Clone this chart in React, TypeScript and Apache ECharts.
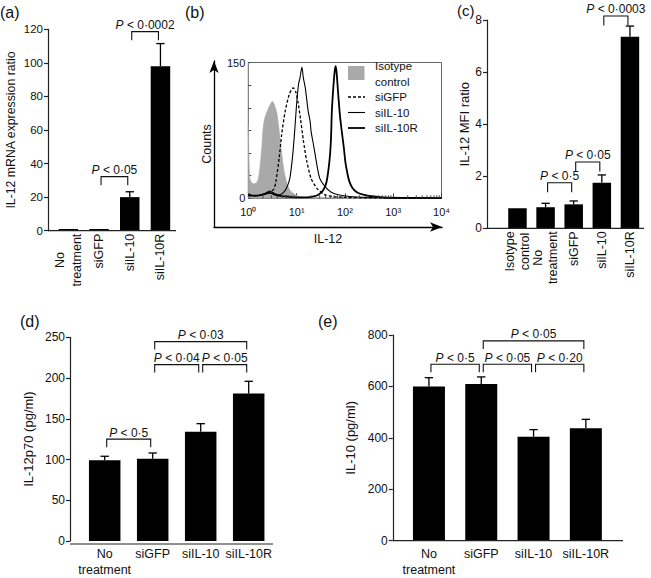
import React, { useEffect, useRef } from 'react';
import * as echarts from 'echarts';

const FONT = '"Liberation Sans", Arial, Helvetica, sans-serif';
const INK = '#111';
const AXIS = '#222';

// ---------- (a) IL-12 mRNA expression ratio ----------
const A_CATEGORIES = ['No\ntreatment', 'siGFP', 'siIL-10', 'siIL-10R'];
const A_MEANS = [1, 1, 20, 98];
const A_UPPER = [1, 1, 23.2, 111.5];
const A_BRACKETS = [
  { from: 1, to: 2, y: 32.2, text: 'P < 0·05' },
  { from: 2, to: 3, y: 118.6, text: 'P < 0·0002' },
];

// ---------- (b) flow cytometry histogram ----------
const B_LEGEND = ['Isotype', 'control', 'siGFP', 'siIL-10', 'siIL-10R'];
const B_MINOR_TICKS = [2, 3, 4, 5, 6, 7, 8, 9, 20, 30, 40, 50, 60, 70, 80, 90, 200, 300, 400, 500, 600, 700, 800, 900, 2000, 3000, 4000, 5000, 6000, 7000, 8000, 9000];
const SUPERSCRIPTS = ['⁰', '¹', '²', '³', '⁴'];
// positions in decades (log10 of IL-12 fluorescence) and counts
const ISO_LOG = [0, 0.03, 0.1, 0.17, 0.21, 0.24, 0.28, 0.31, 0.35, 0.4, 0.45, 0.5, 0.54, 0.59, 0.63, 0.66, 0.7, 0.74, 0.79, 0.86, 0.97, 1.07, 1.3, 2, 3, 4];
const ISO_COUNTS = [80, 22, 16, 17, 22, 33, 55, 78, 90, 97, 103, 107, 103, 94, 78, 63, 45, 30, 18, 9, 4, 1.5, 0.8, 0.5, 0.3, 0.3];
const GFP_LOG = [0, 0.1, 0.2, 0.3, 0.4, 0.47, 0.53, 0.57, 0.64, 0.69, 0.76, 0.85, 0.93, 0.98, 1.03, 1.08, 1.14, 1.21, 1.3, 1.42, 1.58, 1.75, 2, 2.5, 3, 4];
const GFP_COUNTS = [5, 3, 3, 4, 6, 8, 10, 18, 45, 70, 95, 115, 122, 118, 106, 88, 64, 41, 22, 11, 4, 2, 1, 0.5, 0.3, 0.3];
const IL10_LOG = [0, 0.15, 0.3, 0.45, 0.55, 0.65, 0.72, 0.79, 0.86, 0.92, 0.96, 1.0, 1.04, 1.07, 1.11, 1.14, 1.18, 1.24, 1.28, 1.3, 1.36, 1.42, 1.48, 1.59, 1.71, 1.86, 2.1, 2.5, 3, 4];
const IL10_COUNTS = [4, 3, 4, 8, 5, 4, 6, 11, 22, 48, 74, 104, 126, 133, 145, 133, 122, 96, 85, 74, 56, 37, 22, 13, 7, 4, 2, 1, 0.5, 0.3];
const IL10R_LOG = [0, 0.2, 0.45, 0.6, 0.8, 1.0, 1.2, 1.35, 1.45, 1.55, 1.62, 1.68, 1.71, 1.73, 1.76, 1.79, 1.81, 1.83, 1.86, 1.9, 1.94, 1.98, 2.01, 2.05, 2.09, 2.15, 2.24, 2.38, 2.59, 2.8, 3.2, 4];
const IL10R_COUNTS = [3, 3, 6, 3, 2, 1, 1, 2, 4, 9, 18, 41, 63, 96, 122, 141, 146, 138, 116, 90, 72, 55, 40, 28, 19, 12, 7, 4, 2, 1, 0.5, 0.3];

// ---------- (c) IL-12 MFI ratio ----------
const C_CATEGORIES = ['Isotype\ncontrol', 'No\ntreatment', 'siGFP', 'siIL-10', 'siIL-10R'];
const C_MEANS = [0.77, 0.81, 0.92, 1.75, 7.36];
const C_UPPER = [0.77, 0.96, 1.05, 2.05, 7.77];
const C_BRACKETS = [
  { from: 1, to: 2, y: 1.75, text: 'P < 0·5' },
  { from: 2, to: 3, y: 2.55, text: 'P < 0·05' },
  { from: 3, to: 4, y: 8.16, text: 'P < 0·0003' },
];

// ---------- (d) IL-12p70 ----------
const D_CATEGORIES = ['No\ntreatment', 'siGFP', 'siIL-10', 'siIL-10R'];
const D_MEANS = [99, 101, 134, 181];
const D_UPPER = [104, 108, 144, 196];
const D_BRACKETS = [
  { from: 0, to: 1, y: 125, text: 'P < 0·5' },
  { from: 1, to: 2, y: 216.5, text: 'P < 0·04' },
  { from: 2, to: 3, y: 216.5, text: 'P < 0·05' },
  { from: 1, to: 3, y: 244.7, text: 'P < 0·03' },
];

// ---------- (e) IL-10 ----------
const E_CATEGORIES = ['No\ntreatment', 'siGFP', 'siIL-10', 'siIL-10R'];
const E_MEANS = [600, 609, 404, 437];
const E_UPPER = [634, 637, 432, 472];
const E_BRACKETS = [
  { from: 0, to: 1, y: 686, text: 'P < 0·5' },
  { from: 1, to: 2, y: 686, text: 'P < 0·05' },
  { from: 2, to: 3, y: 686, text: 'P < 0·20' },
  { from: 1, to: 3, y: 777, text: 'P < 0·05' },
];

// ---------- layout ----------
const GA = { left: 53, top: 29.3, width: 122.8, height: 201.4, offset: 5, lineEnd: 176 };
const GBO = { left: 214, top: 61, width: 228, height: 166 };
const GBI = { left: 248.3, top: 62.5, width: 193.2, height: 135.8 };
const GC = { left: 503.4, top: 20.1, width: 140.6, height: 208.2, offset: 16.4, lineEnd: 644 };
const GD = { left: 80.7, top: 337.3, width: 192, height: 206.7, offset: 10.7, lineEnd: 273 };
const GE = { left: 402.8, top: 335, width: 209.2, height: 205.7, offset: 10, lineEnd: 623 };

function catAxis(gridIndex: number, data: string[], rotated: boolean, lineHeight: number) {
  return {
    type: 'category',
    gridIndex,
    data,
    boundaryGap: true,
    axisLine: { show: false },
    axisTick: { show: false },
    axisLabel: {
      interval: 0,
      rotate: rotated ? 90 : 0,
      margin: rotated ? 3 : 5,
      color: INK,
      fontFamily: FONT,
      fontSize: 12.5,
      lineHeight,
      formatter: (v: string) => v.split('\n').map((s) => `{c|${s}}`).join('\n'),
      rich: { c: { align: 'center', fontSize: 12.5, fontFamily: FONT, color: INK, lineHeight } },
    },
    splitLine: { show: false },
  };
}

function valAxis(gridIndex: number, max: number, interval: number, name: string, nameGap: number, offset: number, fontSize: number, nameSize: number) {
  return {
    type: 'value',
    gridIndex,
    min: 0,
    max,
    interval,
    offset,
    name,
    nameLocation: 'middle',
    nameGap,
    nameTextStyle: { fontSize: nameSize, color: INK, fontFamily: FONT },
    axisLine: { show: true, lineStyle: { color: AXIS, width: 1.2 } },
    axisTick: { show: true, length: 4, lineStyle: { color: AXIS, width: 1.2 } },
    axisLabel: { margin: 5, fontSize, color: INK, fontFamily: FONT },
    splitLine: { show: false },
  };
}

function barSeries(axisIndex: number, values: number[], barWidth: number) {
  return {
    type: 'bar',
    xAxisIndex: axisIndex,
    yAxisIndex: axisIndex,
    data: values,
    barWidth,
    itemStyle: { color: '#000' },
    silent: true,
    z: 2,
  };
}

function errorSeries(axisIndex: number, means: number[], upper: number[]) {
  return {
    type: 'custom',
    xAxisIndex: axisIndex,
    yAxisIndex: axisIndex,
    clip: false,
    silent: true,
    z: 3,
    data: means.map((m, i) => [i, m, upper[i]]),
    encode: { x: 0, y: [1, 2] },
    renderItem: (params: any, api: any) => {
      const i = api.value(0);
      const a = api.coord([i, api.value(1)]);
      const b = api.coord([i, api.value(2)]);
      if (Math.abs(a[1] - b[1]) < 0.5) return { type: 'group', children: [] };
      const st = { stroke: '#000', lineWidth: 1.3 };
      return {
        type: 'group',
        children: [
          { type: 'line', shape: { x1: a[0], y1: a[1], x2: b[0], y2: b[1] }, style: st },
          { type: 'line', shape: { x1: b[0] - 4.2, y1: b[1], x2: b[0] + 4.2, y2: b[1] }, style: st },
        ],
      };
    },
  };
}

function bracketSeries(axisIndex: number, brackets: { from: number; to: number; y: number; text: string }[], leg: number) {
  return {
    type: 'custom',
    xAxisIndex: axisIndex,
    yAxisIndex: axisIndex,
    clip: false,
    silent: true,
    z: 4,
    data: brackets.map((b) => [b.from, b.to, b.y]),
    encode: { x: [0, 1], y: 2 },
    renderItem: (params: any, api: any) => {
      const br = brackets[params.dataIndex];
      const p1 = api.coord([api.value(0), api.value(2)]);
      const p2 = api.coord([api.value(1), api.value(2)]);
      const x1 = p1[0] + 2;
      const x2 = p2[0] - 2;
      const y = p1[1];
      return {
        type: 'group',
        children: [
          {
            type: 'polyline',
            shape: { points: [[x1, y + leg], [x1, y], [x2, y], [x2, y + leg]] },
            style: { stroke: '#111', lineWidth: 1.1, fill: null },
          },
          {
            type: 'text',
            x: (x1 + x2) / 2,
            y: y - 0.5,
            style: {
              text: `{i|${br.text.slice(0, 1)}}{n|${br.text.slice(1)}}`,
              align: 'center',
              verticalAlign: 'bottom',
              fill: INK,
              fontSize: 12,
              fontFamily: FONT,
              rich: {
                i: { fontStyle: 'italic', fontSize: 12, fontFamily: FONT, fill: INK },
                n: { fontSize: 12, fontFamily: FONT, fill: INK },
              },
            },
          },
        ],
      };
    },
  };
}

function histSeries(logs: number[], counts: number[], lineStyle: any, area: boolean, z: number) {
  return {
    type: 'line',
    xAxisIndex: 2,
    yAxisIndex: 2,
    data: logs.map((l, i) => [Math.pow(10, l), counts[i]]),
    symbol: 'none',
    showSymbol: false,
    smooth: 0.25,
    silent: true,
    lineStyle,
    areaStyle: area ? { color: '#a9a9a9', opacity: 1 } : undefined,
    z,
  };
}

function xLine(g: any) {
  const y = g.top + g.height;
  return {
    type: 'line',
    z: 100,
    shape: { x1: g.left - g.offset, y1: y, x2: g.lineEnd, y2: y },
    style: { stroke: AXIS, lineWidth: 1.2 },
  };
}

function panelLabel(text: string, x: number, y: number, size: number) {
  return {
    type: 'text',
    z: 100,
    x,
    y,
    style: { text, fontSize: size, fontFamily: FONT, fill: INK, align: 'left', verticalAlign: 'middle' },
  };
}

function legendText(text: string, y: number) {
  return {
    type: 'text',
    z: 100,
    x: 375,
    y,
    style: { text, fontSize: 11.5, fontFamily: FONT, fill: INK, align: 'left', verticalAlign: 'middle' },
  };
}

function buildOption() {
  return {
    animation: false,
    backgroundColor: '#fff',
    textStyle: { fontFamily: FONT },
    grid: [
      { left: GA.left, top: GA.top, width: GA.width, height: GA.height },
      { left: GBO.left, top: GBO.top, width: GBO.width, height: GBO.height },
      { left: GBI.left, top: GBI.top, width: GBI.width, height: GBI.height, show: true, borderColor: '#666', borderWidth: 1, backgroundColor: 'transparent' },
      { left: GC.left, top: GC.top, width: GC.width, height: GC.height },
      { left: GD.left, top: GD.top, width: GD.width, height: GD.height },
      { left: GE.left, top: GE.top, width: GE.width, height: GE.height },
    ],
    xAxis: [
      catAxis(0, A_CATEGORIES, true, 17),
      {
        type: 'value', gridIndex: 1, min: 0, max: 1,
        axisLine: { show: true, onZero: false, symbol: ['none', 'arrow'], symbolSize: [7, 12], lineStyle: { color: '#000', width: 1.3 } },
        axisTick: { show: false }, axisLabel: { show: false }, splitLine: { show: false },
        name: 'IL-12', nameLocation: 'middle', nameGap: 5,
        nameTextStyle: { fontSize: 12.5, color: INK, fontFamily: FONT, verticalAlign: 'top' },
      },
      {
        type: 'log', logBase: 10, gridIndex: 2, min: 1, max: 10000,
        axisLine: { show: false },
        axisTick: { show: true, inside: true, length: 5, lineStyle: { color: '#444' } },
        axisLabel: {
          margin: 8, fontSize: 11, color: INK, fontFamily: FONT,
          formatter: (v: number) => '10' + SUPERSCRIPTS[Math.round(Math.log10(v))],
        },
        splitLine: { show: false },
      },
      catAxis(3, C_CATEGORIES, true, 15.5),
      catAxis(4, D_CATEGORIES, false, 16),
      catAxis(5, E_CATEGORIES, false, 16),
    ],
    yAxis: [
      { ...valAxis(0, 120, 20, 'IL-12 mRNA expression ratio', 31, GA.offset, 11.5, 12.3) },
      {
        type: 'value', gridIndex: 1, min: 0, max: 1,
        axisLine: { show: true, onZero: false, symbol: ['none', 'arrow'], symbolSize: [7, 12], lineStyle: { color: '#000', width: 1.3 } },
        axisTick: { show: false }, axisLabel: { show: false }, splitLine: { show: false },
        name: 'Counts', nameLocation: 'middle', nameGap: 1,
        nameTextStyle: { fontSize: 12.5, color: INK, fontFamily: FONT },
      },
      {
        type: 'value', gridIndex: 2, min: 0, max: 150, interval: 25,
        axisLine: { show: false },
        axisTick: { show: true, inside: true, length: 3, lineStyle: { color: '#444' } },
        axisLabel: {
          margin: 3, fontSize: 11, color: INK, fontFamily: FONT,
          formatter: (v: number) => (v === 0 || v === 150 ? String(v) : ''),
        },
        splitLine: { show: false },
      },
      { ...valAxis(3, 8, 2, 'IL-12 MFI ratio', 6.5, GC.offset, 12, 13) },
      { ...valAxis(4, 250, 50, 'IL-12p70 (pg/ml)', 35, GD.offset, 12, 13) },
      { ...valAxis(5, 800, 200, 'IL-10 (pg/ml)', 36, GE.offset, 12, 13) },
    ],
    series: [
      barSeries(0, A_MEANS, 19.5),
      errorSeries(0, A_MEANS, A_UPPER),
      bracketSeries(0, A_BRACKETS, 8.5),

      histSeries(ISO_LOG, ISO_COUNTS, { color: '#a9a9a9', width: 0.8 }, true, 2),
      histSeries(GFP_LOG, GFP_COUNTS, { color: '#000', width: 1.3, type: [3, 2] }, false, 3),
      histSeries(IL10_LOG, IL10_COUNTS, { color: '#000', width: 1.1 }, false, 3),
      histSeries(IL10R_LOG, IL10R_COUNTS, { color: '#000', width: 1.8 }, false, 3),
      {
        type: 'custom', xAxisIndex: 2, yAxisIndex: 2, clip: false, silent: true, z: 5,
        data: B_MINOR_TICKS.map((v) => [v, 0]),
        renderItem: (params: any, api: any) => {
          const p = api.coord([api.value(0), 0]);
          return { type: 'line', shape: { x1: p[0], y1: p[1], x2: p[0], y2: p[1] - 3 }, style: { stroke: '#444', lineWidth: 1 } };
        },
      },

      barSeries(3, C_MEANS, 18.5),
      errorSeries(3, C_MEANS, C_UPPER),
      bracketSeries(3, C_BRACKETS, 9.5),

      barSeries(4, D_MEANS, 31.5),
      errorSeries(4, D_MEANS, D_UPPER),
      bracketSeries(4, D_BRACKETS, 8),

      barSeries(5, E_MEANS, 32),
      errorSeries(5, E_MEANS, E_UPPER),
      bracketSeries(5, E_BRACKETS, 8),
    ],
    graphic: [
      xLine(GA), xLine(GC), xLine(GD), xLine(GE),
      panelLabel('(a)', 0, 12.5, 16),
      panelLabel('(b)', 185, 12.5, 16),
      panelLabel('(c)', 457, 10, 15),
      panelLabel('(d)', 20, 321, 16),
      panelLabel('(e)', 318, 321, 16),
      { type: 'rect', z: 100, shape: { x: 348, y: 66, width: 16.5, height: 14 }, style: { fill: '#a9a9a9' } },
      legendText(B_LEGEND[0], 66),
      legendText(B_LEGEND[1], 81.5),
      { type: 'line', z: 100, shape: { x1: 348, y1: 97, x2: 365, y2: 97 }, style: { stroke: '#000', lineWidth: 1.3, lineDash: [3, 2] } },
      legendText(B_LEGEND[2], 97),
      { type: 'line', z: 100, shape: { x1: 348, y1: 112.5, x2: 365, y2: 112.5 }, style: { stroke: '#000', lineWidth: 1.1 } },
      legendText(B_LEGEND[3], 112.5),
      { type: 'line', z: 100, shape: { x1: 348, y1: 128, x2: 365, y2: 128 }, style: { stroke: '#000', lineWidth: 1.8 } },
      legendText(B_LEGEND[4], 128),
    ],
  };
}

export default function App() {
  const ref = useRef<HTMLDivElement>(null);
  useEffect(() => {
    if (!ref.current) return;
    const chart = echarts.init(ref.current, null, { renderer: 'svg' });
    chart.setOption(buildOption() as any);
    return () => chart.dispose();
  }, []);
  return (
    <div
      ref={ref}
      style={{ position: 'fixed', left: 0, top: 0, width: 651, height: 578, background: '#fff' }}
    />
  );
}
